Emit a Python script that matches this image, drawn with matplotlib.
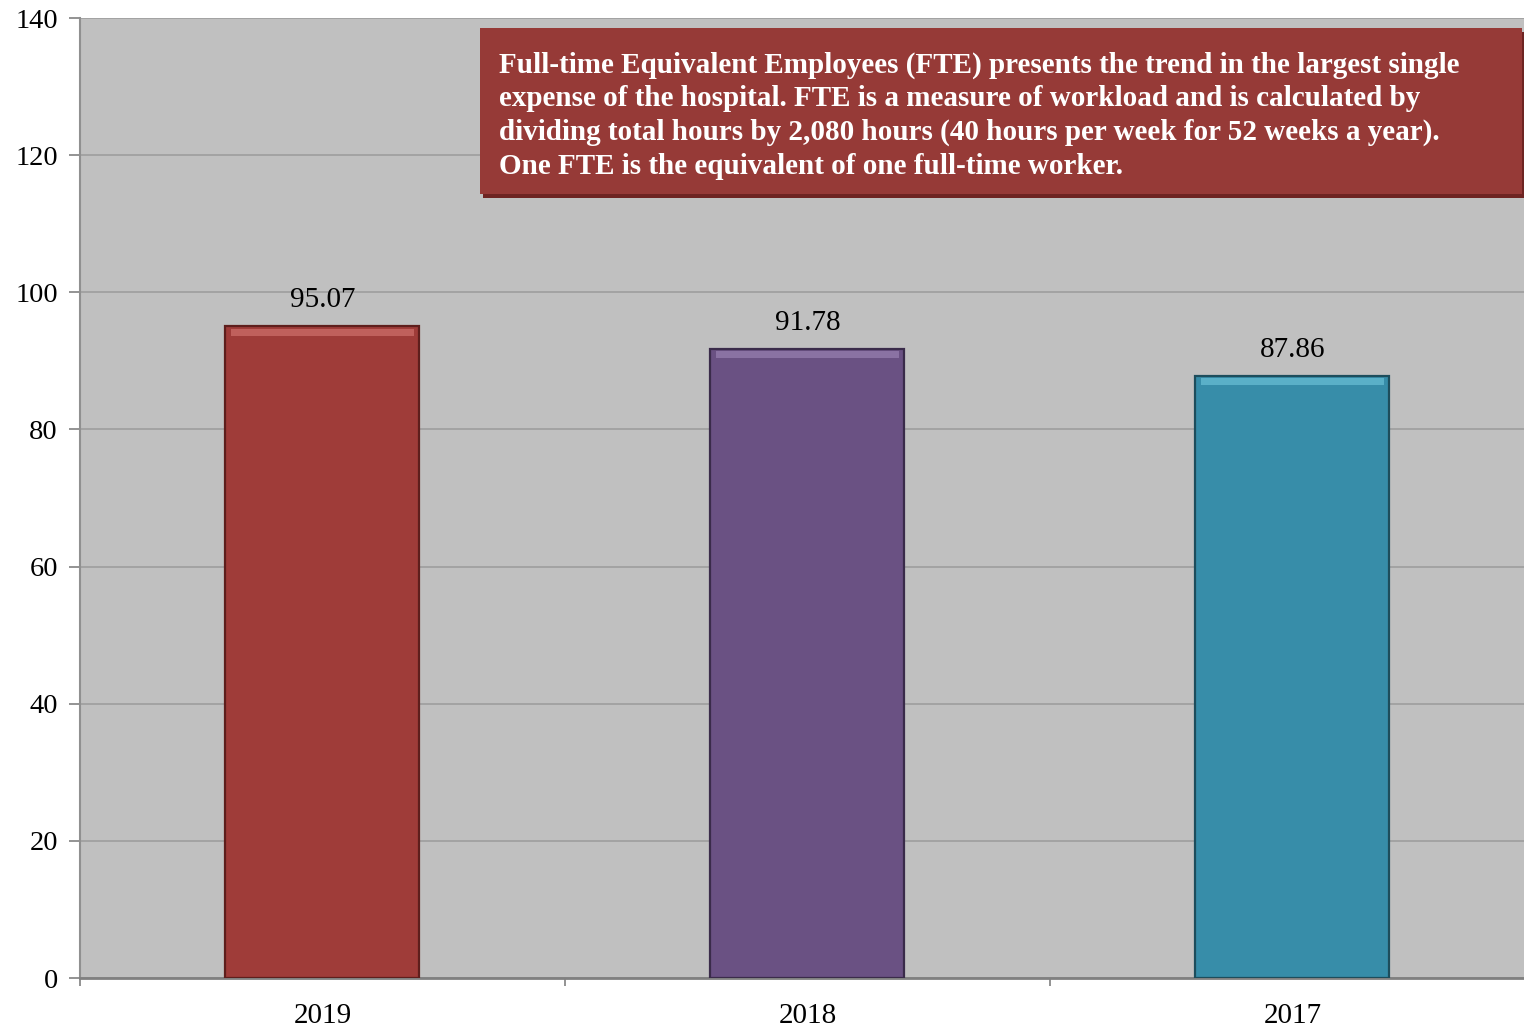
import matplotlib.pyplot as plt
from matplotlib.patches import Rectangle
import numpy as np

plt.rcParams['font.family'] = ['Liberation Serif', 'DejaVu Serif']

years = ["2019", "2018", "2017"]
fte = [95.07, 91.78, 87.86]
bar_colors = ["#9f3c39", "#6a5183", "#378da9"]
edge_colors = ["#5e1e1c", "#3a2b4a", "#1d4d5c"]
light_colors = ["#c0605c", "#8a72a3", "#5ab0c8"]

note = ("Full-time Equivalent Employees (FTE) presents the trend in the largest single\n"
        "expense of the hospital. FTE is a measure of workload and is calculated by\n"
        "dividing total hours by 2,080 hours (40 hours per week for 52 weeks a year).\n"
        "One FTE is the equivalent of one full-time worker.")

fig = plt.figure(figsize=(15.24, 10.27), dpi=100)
# axes runs slightly past the right edge of the figure, like the original
ax = fig.add_axes([80 / 1524, 49 / 1027, 1455 / 1524, 960 / 1027])
ax.set_facecolor("#c0c0c0")

x = np.arange(len(years))
width = 0.4
ax.bar(x, fte, width=width, color=bar_colors, edgecolor=edge_colors, linewidth=1.6, zorder=3)
# bevel highlight along the top
ax.bar(x, [1.0] * len(fte), bottom=np.array(fte) - 1.4, width=width * 0.94,
       color=light_colors, linewidth=0, zorder=4)

for xi, v in zip(x, fte):
    ax.text(xi, v + 1.9, f"{v:.2f}", ha="center", va="bottom", fontsize=21, zorder=5)

ax.set_xlim(-0.5, len(years) - 0.5)
ax.set_ylim(0, 140)
ax.set_yticks(range(0, 141, 20))
ax.set_xticks(x)
ax.set_xticklabels(years)
ax.set_xticks(np.arange(-0.5, len(years) - 0.4, 1), minor=True)
ax.tick_params(axis="x", which="major", length=0, labelsize=21, pad=18)
ax.tick_params(axis="x", which="minor", length=6, color="#808080", width=1.2)
ax.tick_params(axis="y", length=8, color="#808080", width=1.2, labelsize=20.5, pad=8)

ax.grid(axis="y", color="#a0a0a0", linewidth=1.3, zorder=0)
for side in ["top", "right"]:
    ax.spines[side].set_visible(False)
ax.spines["left"].set_color("#909090")
ax.spines["left"].set_linewidth(1.5)
ax.spines["bottom"].set_color("#808080")
ax.spines["bottom"].set_linewidth(2)

# note box with shadow
bx0, bx1 = 400 / 1455, 1442 / 1455
by0, by1 = 0.8167, 0.9896
ax.add_patch(Rectangle((bx0 + 0.002, by0 - 0.004), bx1 - bx0, by1 - by0,
                       transform=ax.transAxes, facecolor="#6e2422", edgecolor="none",
                       zorder=6, clip_on=False))
ax.add_patch(Rectangle((bx0, by0), bx1 - bx0, by1 - by0, transform=ax.transAxes,
                       facecolor="#963a37", edgecolor="none", zorder=7, clip_on=False))
ax.text(419 / 1455, 0.965, note, transform=ax.transAxes, ha="left", va="top",
        color="white", fontsize=21, fontweight="bold", linespacing=1.31, zorder=8)

fig.savefig("out.png", dpi=100)
plt.close(fig)
